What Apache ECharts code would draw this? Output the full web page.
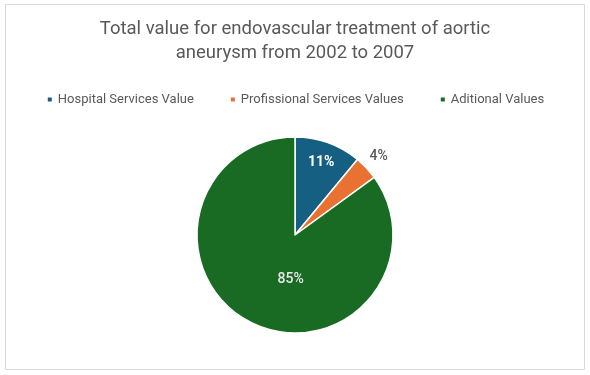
<!DOCTYPE html>
<html>
<head>
<meta charset="utf-8">
<style>
html,body{margin:0;padding:0;background:#fff;}
#chart{width:590px;height:375px;}
</style>
<script src="https://cdn.jsdelivr.net/npm/echarts@6/dist/echarts.min.js"></script>
</head>
<body>
<div id="chart"></div>
<script>
var titleText = "Total value for endovascular treatment of aortic\naneurysm from 2002 to 2007";
var categories = ["Hospital Services Value", "Profissional Services Values", "Aditional Values"];
var values = [11, 4, 85];
var colors = ["#156082", "#E97132", "#196B24"];

var chart = echarts.init(document.getElementById('chart'), null, {renderer: 'canvas'});

var CX = 295, CY = 235, R = 98;
var total = values.reduce(function(a, b){ return a + b; }, 0);
var starts = [];
var acc = 0;
values.forEach(function(v){ starts.push(acc); acc += v; });
var labelRadial = [0.79, 1.17, 0.46];
var labelAngleFrac = [0.5, 0.5, 0.43];

var data = categories.map(function(c, i){
  var outside = i === 1;
  return {
    name: c,
    value: values[i],
    itemStyle: {color: colors[i]},
    label: {
      show: true,
      formatter: '{d}%',
      position: outside ? 'outside' : 'inside',
      color: outside ? '#595959' : (i === 0 ? '#ffffff' : '#e8e8e8'),
      fontSize: 14,
      fontFamily: 'Roboto',
      fontWeight: i === 0 ? 'bold' : 500
    },
    labelLine: {show: false}
  };
});

chart.setOption({
  animation: false,
  backgroundColor: '#ffffff',
  graphic: [{
    type: 'rect',
    shape: {x: 5.5, y: 4.5, width: 579, height: 365},
    style: {fill: 'none', stroke: '#d9d9d9', lineWidth: 1},
    silent: true,
    z: -1
  }],
  title: {
    text: titleText,
    left: 'center',
    top: 13,
    textStyle: {
      fontFamily: 'Roboto',
      fontSize: 18.5,
      fontWeight: 'normal',
      color: '#595959',
      lineHeight: 23.5
    }
  },
  legend: {
    data: categories,
    top: 88,
    left: 'center',
    itemWidth: 6,
    itemHeight: 6,
    itemGap: 35,
    icon: 'rect',
    textStyle: {fontFamily: 'Roboto', fontSize: 13, color: '#595959'}
  },
  series: [{
    type: 'pie',
    center: [CX, CY],
    radius: [0, R],
    startAngle: 90,
    clockwise: true,
    avoidLabelOverlap: false,
    itemStyle: {borderColor: '#ffffff', borderWidth: 1.5},
    emphasis: {disabled: true},
    data: data,
    labelLayout: function(p){
      var i = p.dataIndex;
      var a = (starts[i] + values[i] * labelAngleFrac[i]) / total * 2 * Math.PI;
      var r = R * labelRadial[i];
      return {
        x: CX + r * Math.sin(a),
        y: CY - r * Math.cos(a),
        align: 'center',
        verticalAlign: 'middle'
      };
    }
  }]
});
</script>
</body>
</html>
